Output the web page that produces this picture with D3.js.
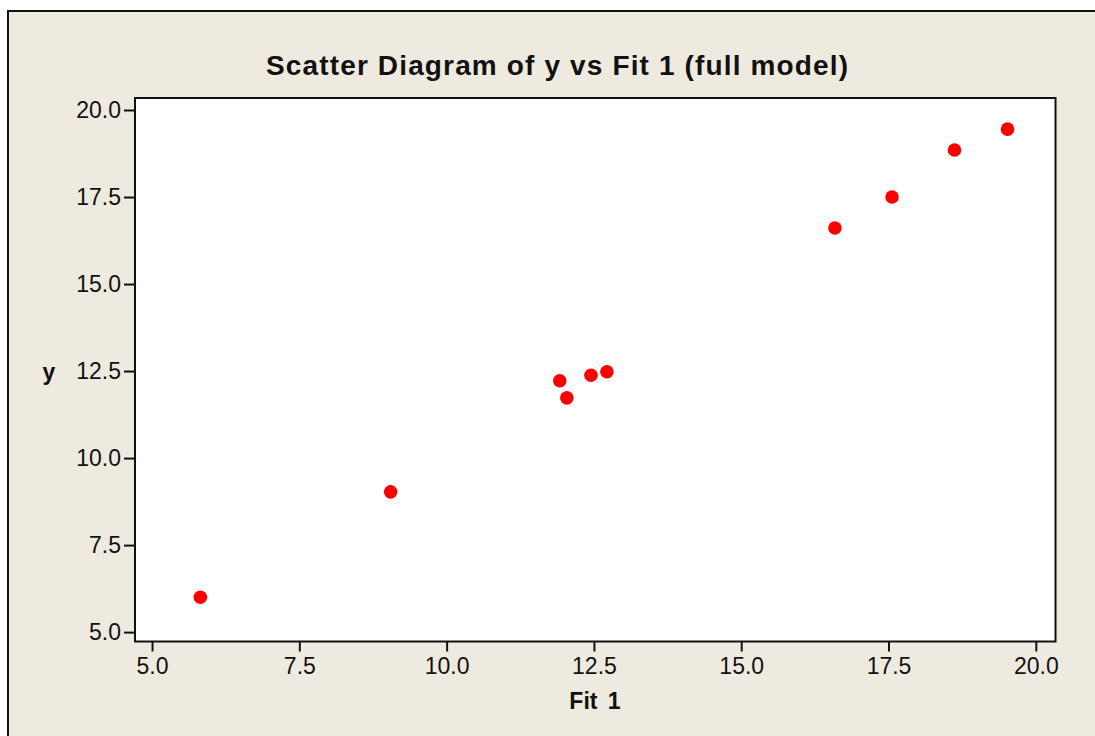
<!DOCTYPE html>
<html>
<head>
    <meta charset="UTF-8">
    <title>Scatter Diagram of y vs Fit 1</title>
    <script src="https://cdn.jsdelivr.net/npm/d3@7"></script>
    <style>
        body { margin: 0; background: #fff; }
        svg { display: block; }
        .tick text { font-family: "Liberation Sans", Arial, sans-serif; font-size: 23px; fill: #111; }
        .tick line { stroke: #111; stroke-width: 2; }
        .domain { display: none; }
    </style>
</head>
<body>
<svg id="chart" width="1095" height="736"></svg>
<script>
    // data
    var fitValues = [5.82, 9.05, 11.92, 12.04, 12.45, 12.72, 16.59, 17.56, 18.62, 19.52];
    var yValues   = [6.00, 9.03, 12.22, 11.73, 12.38, 12.48, 16.61, 17.50, 18.85, 19.45];
    var xTicks = [5.0, 7.5, 10.0, 12.5, 15.0, 17.5, 20.0];
    var yTicks = [5.0, 7.5, 10.0, 12.5, 15.0, 17.5, 20.0];

    var W = 1095, H = 736;
    var plot = {left: 135, top: 98, right: 1055.5, bottom: 641.5};
    var font = '"Liberation Sans", Arial, sans-serif';

    var svg = d3.select('#chart');

    // beige frame, only its left and top edges are inside the picture
    svg.append('rect')
        .attr('x', 8).attr('y', 11)
        .attr('width', W + 10).attr('height', H + 10)
        .attr('fill', '#eeeae0')
        .attr('stroke', '#111').attr('stroke-width', 2);

    var x = d3.scaleLinear().domain([4.711, 20.334]).range([plot.left, plot.right]);
    var y = d3.scaleLinear().domain([4.73, 20.345]).range([plot.bottom, plot.top]);

    svg.append('rect')
        .attr('x', plot.left).attr('y', plot.top)
        .attr('width', plot.right - plot.left).attr('height', plot.bottom - plot.top)
        .attr('fill', '#fff')
        .attr('stroke', '#111').attr('stroke-width', 2);

    svg.append('g')
        .attr('transform', 'translate(0,' + plot.bottom + ')')
        .call(d3.axisBottom(x).tickValues(xTicks).tickFormat(d3.format('.1f')).tickSize(10).tickPadding(6));

    svg.append('g')
        .attr('transform', 'translate(' + plot.left + ',0)')
        .call(d3.axisLeft(y).tickValues(yTicks).tickFormat(d3.format('.1f')).tickSize(11).tickPadding(3));

    svg.append('g')
        .selectAll('circle')
        .data(fitValues)
        .enter()
        .append('circle')
        .attr('cx', function (d) { return x(d); })
        .attr('cy', function (d, i) { return y(yValues[i]); })
        .attr('r', 6.8)
        .attr('fill', '#ff0000');

    svg.append('text')
        .attr('x', 557).attr('y', 75)
        .attr('text-anchor', 'middle')
        .attr('font-family', font)
        .attr('font-size', 28).attr('font-weight', 'bold')
        .attr('fill', '#111')
        .attr('textLength', 582).attr('lengthAdjust', 'spacing')
        .text('Scatter Diagram of y vs Fit 1 (full model)');

    svg.append('text')
        .attr('x', 595).attr('y', 709)
        .attr('text-anchor', 'middle')
        .attr('font-family', font)
        .attr('font-size', 23).attr('font-weight', 'bold')
        .attr('fill', '#111')
        .style('word-spacing', '4px')
        .text('Fit 1');

    svg.append('text')
        .attr('x', 49).attr('y', 380)
        .attr('text-anchor', 'middle')
        .attr('font-family', font)
        .attr('font-size', 23).attr('font-weight', 'bold')
        .attr('fill', '#111')
        .text('y');
</script>
</body>
</html>
